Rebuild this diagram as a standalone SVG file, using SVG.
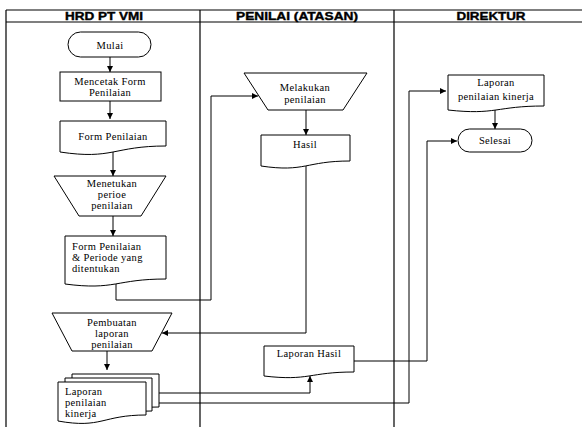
<svg xmlns="http://www.w3.org/2000/svg" width="582" height="427" viewBox="0 0 582 427">
<style>
.frame{stroke:#000;stroke-width:1.2;fill:none}
.shape{stroke:#000;stroke-width:1;fill:#fff}
.conn{stroke:#000;stroke-width:1;fill:none}
.hdr{font-family:"Liberation Sans",Arial,sans-serif;font-weight:bold;font-size:10.5px;fill:#000;stroke:#000;stroke-width:0.35px}
.t{font-family:"Liberation Serif","DejaVu Serif","Times New Roman",serif;font-size:10.5px;letter-spacing:0.35px;fill:#000}
.c{text-anchor:middle}
</style>
<defs>
<marker id="arr" markerWidth="6" markerHeight="6" refX="6" refY="3" orient="auto" markerUnits="userSpaceOnUse">
<path d="M0,0 L6,3 L0,6 z" fill="#000"/>
</marker>
</defs>
<rect width="582" height="427" fill="#fff"/>
<g id="frame">
<path class="frame" d="M6 10 H582 M6 22 H582 M6 10 V427 M200 10 V427 M394 10 V427"/>
<text class="hdr c" x="104" y="20" textLength="78" lengthAdjust="spacingAndGlyphs">HRD PT VMI</text>
<text class="hdr c" x="297" y="20" textLength="122" lengthAdjust="spacingAndGlyphs">PENILAI (ATASAN)</text>
<text class="hdr c" x="491" y="20" textLength="69" lengthAdjust="spacingAndGlyphs">DIREKTUR</text>
</g>
<g id="connectors">
<path class="conn" d="M110 57 V72" marker-end="url(#arr)"/>
<path class="conn" d="M110 101 V119" marker-end="url(#arr)"/>
<path class="conn" d="M113 152 V176" marker-end="url(#arr)"/>
<path class="conn" d="M113 216 V236" marker-end="url(#arr)"/>
<path class="conn" d="M116 284 V300 H211 V96 H258" marker-end="url(#arr)"/>
<path class="conn" d="M306 110 V135" marker-end="url(#arr)"/>
<path class="conn" d="M306 166 V333 H162" marker-end="url(#arr)"/>
<path class="conn" d="M107 351 V370" marker-end="url(#arr)"/>
<path class="conn" d="M159 393 H310 V376" marker-end="url(#arr)"/>
<path class="conn" d="M159 403 H409 V91 H446" marker-end="url(#arr)"/>
<path class="conn" d="M354 361 H427 V141 H457" marker-end="url(#arr)"/>
<path class="conn" d="M495 110 V129" marker-end="url(#arr)"/>
</g>
<g id="mulai">
<rect class="shape" x="68" y="32" width="83" height="25" rx="12.5"/>
<text class="t c" x="110" y="48.5">Mulai</text>
</g>
<g id="mencetak">
<rect class="shape" x="60" y="72" width="101" height="29"/>
<text class="t c" x="110" y="85">Mencetak Form</text>
<text class="t c" x="110" y="96">Penilaian</text>
</g>
<g id="form-penilaian">
<path class="shape" d="M60 121 H166 V146 C113 146 113 160 60 152 Z"/>
<text class="t c" x="113" y="139.5">Form Penilaian</text>
</g>
<g id="menetukan">
<path class="shape" d="M54 176 H166 L141 216 H79 Z"/>
<text class="t c" x="112" y="187">Menetukan</text>
<text class="t c" x="112" y="198">perioe</text>
<text class="t c" x="112" y="209">penilaian</text>
</g>
<g id="form-periode">
<path class="shape" d="M65 236 H166 V279 C115.5 279 115.5 290.6 65 284 Z"/>
<text class="t" x="72" y="250">Form Penilaian</text>
<text class="t" x="72" y="261">&amp; Periode yang</text>
<text class="t" x="72" y="272">ditentukan</text>
</g>
<g id="melakukan">
<path class="shape" d="M244 73 H367 L343 110 H268 Z"/>
<text class="t c" x="305" y="90.5">Melakukan</text>
<text class="t c" x="305" y="102.5">penilaian</text>
</g>
<g id="hasil">
<path class="shape" d="M261 135 H350 V161 C305.5 161 305.5 172.6 261 166 Z"/>
<text class="t c" x="305" y="147.5">Hasil</text>
</g>
<g id="pembuatan">
<path class="shape" d="M52 313 H172 L152 351 H72 Z"/>
<text class="t c" x="112" y="326">Pembuatan</text>
<text class="t c" x="112" y="337">laporan</text>
<text class="t c" x="112" y="348">penilaian</text>
</g>
<g id="laporan-kinerja-hrd">
<path class="shape" d="M72 374 H159 V407 C115.5 407 115.5 420 72 413 Z"/>
<path class="shape" d="M65 378 H152 V411 C108.5 411 108.5 424 65 417 Z"/>
<path class="shape" d="M58 382 H146 V415 C102 415 102 428.9 58 421 Z"/>
<text class="t" x="65" y="395">Laporan</text>
<text class="t" x="65" y="406">penilaian</text>
<text class="t" x="65" y="417">kinerja</text>
</g>
<g id="laporan-hasil">
<path class="shape" d="M264 346 H354 V372 C309 372 309 381.3 264 376 Z"/>
<text class="t c" x="309" y="356.5">Laporan Hasil</text>
</g>
<g id="laporan-kinerja-direktur">
<path class="shape" d="M448 75 H544 V106 C496 106 496 115.3 448 110 Z"/>
<text class="t c" x="496" y="86">Laporan</text>
<text class="t c" x="496" y="100">penilaian kinerja</text>
</g>
<g id="selesai">
<rect class="shape" x="458" y="129" width="74" height="23" rx="11.5"/>
<text class="t c" x="495" y="143.5">Selesai</text>
</g>
</svg>
